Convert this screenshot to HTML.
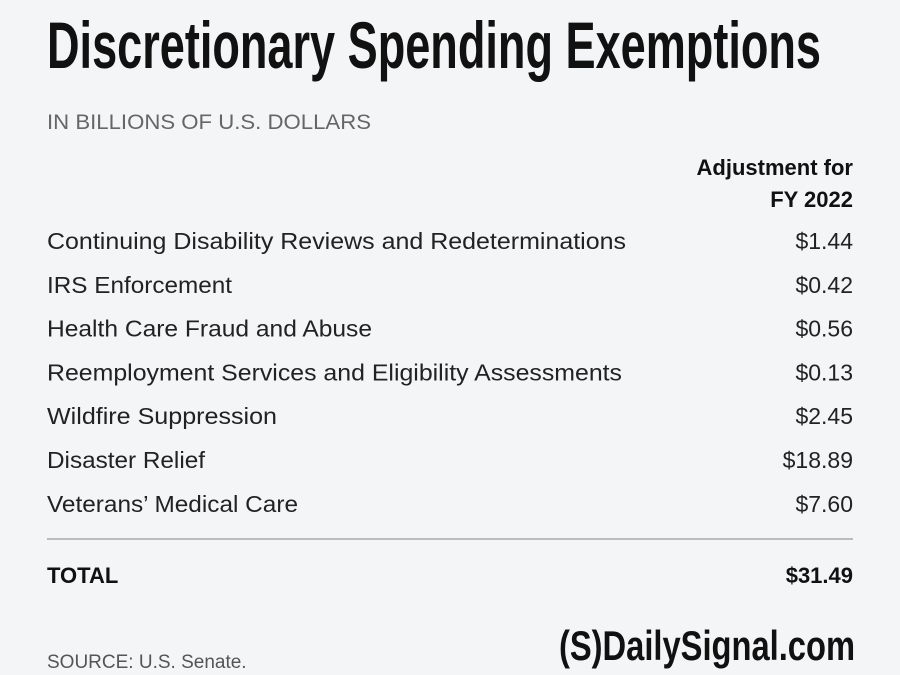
<!DOCTYPE html>
<html><head><meta charset="utf-8"><style>
html,body{margin:0;padding:0;background:#f4f5f7;}
svg{display:block;font-family:"Liberation Sans",sans-serif;}
</style></head><body>
<svg width="900" height="675" viewBox="0 0 900 675">
<rect width="900" height="675" fill="#f4f5f7"/>
<text x="47" y="68" font-size="66" font-weight="bold" fill="#111" textLength="774" lengthAdjust="spacingAndGlyphs">Discretionary Spending Exemptions</text>
<text x="47" y="129" font-size="21" fill="#666" textLength="324" lengthAdjust="spacingAndGlyphs">IN BILLIONS OF U.S. DOLLARS</text>
<text x="853" y="175" font-size="22" font-weight="bold" fill="#111" text-anchor="end">Adjustment for</text>
<text x="853" y="207" font-size="22" font-weight="bold" fill="#111" text-anchor="end">FY 2022</text>
<g id="rows" fill="#222" font-size="23"></g>
<line x1="47" y1="539" x2="853" y2="539" stroke="#aaa" stroke-width="1.5"/>
<text x="47" y="583" font-size="22" font-weight="bold" fill="#111">TOTAL</text>
<text x="853" y="583" font-size="22" font-weight="bold" fill="#111" text-anchor="end">$31.49</text>
<text x="47" y="668" font-size="19" fill="#555">SOURCE: U.S. Senate.</text>
<text x="559" y="660" font-size="42" font-weight="bold" fill="#111" textLength="296" lengthAdjust="spacingAndGlyphs">(S)DailySignal.com</text>
</svg>
<script>
const categories=["Continuing Disability Reviews and Redeterminations","IRS Enforcement","Health Care Fraud and Abuse","Reemployment Services and Eligibility Assessments","Wildfire Suppression","Disaster Relief","Veterans\u2019 Medical Care"];
const values=[1.44,0.42,0.56,0.13,2.45,18.89,7.60];
const labelWidths=[579,185,325,575,230,158,251];
const g=document.getElementById('rows');
const NS="http://www.w3.org/2000/svg";
categories.forEach((c,i)=>{
  const y=249+i*43.8;
  const t=document.createElementNS(NS,'text');
  t.setAttribute('x',47);t.setAttribute('y',y);
  t.setAttribute('textLength',labelWidths[i]);t.setAttribute('lengthAdjust','spacingAndGlyphs');
  t.textContent=c;
  
  
  g.appendChild(t);
  const v=document.createElementNS(NS,'text');
  v.setAttribute('x',853);v.setAttribute('y',y);v.setAttribute('text-anchor','end');
  v.textContent='$'+values[i].toFixed(2);
  
  
  g.appendChild(v);
});
</script>
</body></html>
